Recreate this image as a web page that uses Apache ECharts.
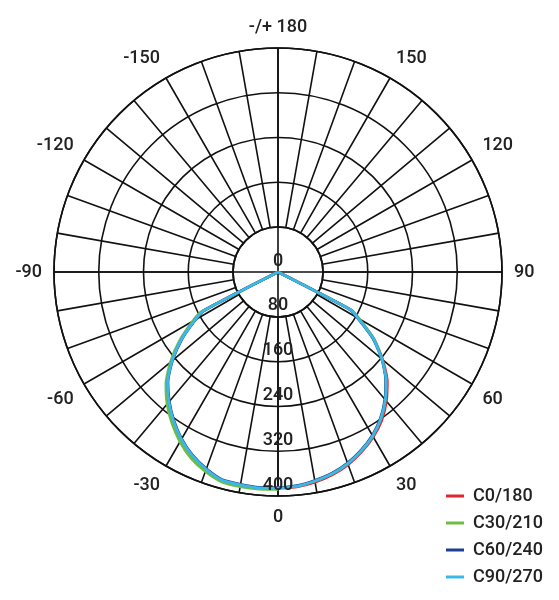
<!DOCTYPE html>
<html>
<head>
<meta charset="utf-8">
<script src="https://cdn.jsdelivr.net/npm/echarts@6/dist/echarts.min.js"></script>
<style>
  html, body { margin: 0; padding: 0; background: #ffffff; }
  #chart { width: 559px; height: 600px; }
</style>
</head>
<body>
<div id="chart"></div>
<script>
// gamma angles (deg) measured from nadir
const angles = [0, 5, 10, 15, 20, 25, 30, 35, 40, 45, 50, 55, 60, 62.5, 65, 70, 75, 80, 85, 90]

// intensity (cd) — right half = C0..C90, left half = C180..C270
const c0   = [386, 385, 381, 375, 366, 354, 340, 323, 301, 276, 244, 209, 166, 146, 0, 0, 0, 0, 0, 0]
const c180 = [386, 387, 387, 386, 376, 363, 346, 326, 304, 280, 248, 212, 172, 150, 0, 0, 0, 0, 0, 0]
const c30  = [386, 384, 379, 373, 364, 352, 338, 320, 298, 273, 243, 210, 168, 148, 0, 0, 0, 0, 0, 0]
const c210 = [388, 389, 389, 388, 379, 367, 350, 330, 308, 283, 251, 215, 176, 154, 0, 0, 0, 0, 0, 0]
const c60  = [385, 383, 378, 372, 363, 351, 337, 319, 297, 272, 242, 207, 164, 144, 0, 0, 0, 0, 0, 0]
const c240 = [385, 386, 385, 384, 374, 361, 344, 324, 302, 278, 246, 210, 170, 148, 0, 0, 0, 0, 0, 0]
const c90  = [386, 384, 379, 373, 364, 352, 338, 320, 298, 273, 242, 208, 165, 145, 0, 0, 0, 0, 0, 0]
const c270 = [386, 387, 386, 385, 375, 362, 345, 325, 303, 279, 247, 211, 171, 149, 0, 0, 0, 0, 0, 0]

const seriesNames = ['C0/180', 'C30/210', 'C60/240', 'C90/270']
const seriesColors = ['#e3262d', '#6dbd45', '#1b3f8f', '#3cb8e6']
const pairs = [[c0, c180], [c30, c210], [c60, c240], [c90, c270]]

const angleLabelStep = 30
const radiusTicks = 80

const labelFont = {
  fontFamily: 'Roboto',
  fontWeight: 500,
  fontSize: 18,
  color: '#222'
}

// left half goes through negative angles (drawn as 360 - a), right half positive
const buildCurve = (right, left) => {
  const pts = []
  for (let i = angles.length - 1; i >= 0; i--) {
    pts.push([left[i], 360 - angles[i]])
  }
  for (let i = 0; i < angles.length; i++) {
    pts.push([right[i], angles[i]])
  }
  return pts
}

const chart = echarts.init(document.getElementById('chart'))

const option = {
  animation: false,
  backgroundColor: '#ffffff',
  polar: [
    { center: [278, 272], radius: [45, 224] },
    { center: [278, 272], radius: [0, 224] }
  ],
  angleAxis: [
    {
      polarIndex: 0,
      type: 'value',
      min: 0,
      max: 360,
      interval: 10,
      startAngle: 270,
      clockwise: false,
      axisLine: { show: true, lineStyle: { color: '#111', width: 1.6 } },
      axisTick: { show: false },
      splitLine: { show: true, lineStyle: { color: '#111', width: 1.6 } },
      axisLabel: {
        ...labelFont,
        margin: 12,
        formatter: v => {
          if (v % angleLabelStep !== 0 || v === 360) return ''
          if (v === 180) return '-/+ 180'
          return v > 180 ? String(v - 360) : String(v)
        }
      }
    },
    {
      polarIndex: 1,
      type: 'value',
      min: 0,
      max: 360,
      interval: 90,
      startAngle: 270,
      clockwise: false,
      axisLine: { show: false },
      axisTick: { show: false },
      axisLabel: { show: false },
      splitLine: { show: true, lineStyle: { color: '#111', width: 1.6 } }
    }
  ],
  radiusAxis: [
    {
      polarIndex: 0,
      type: 'value',
      min: 80,
      max: 400,
      interval: radiusTicks,
      axisLine: { show: false },
      axisTick: { show: false },
      axisLabel: { show: false },
      splitLine: { show: true, lineStyle: { color: '#111', width: 1.6 } }
    },
    {
      polarIndex: 1,
      type: 'value',
      min: 0,
      max: 400,
      interval: radiusTicks,
      z: 10,
      axisLine: { show: false },
      axisTick: { show: false },
      splitLine: { show: false },
      axisLabel: {
        ...labelFont,
        margin: 0,
        align: 'center',
        verticalAlign: 'bottom',
        padding: [0, 0, 2, 0]
      }
    }
  ],
  legend: {
    orient: 'vertical',
    left: 441,
    top: 482,
    icon: 'rect',
    itemWidth: 18,
    itemHeight: 3,
    itemGap: 9,
    data: seriesNames,
    textStyle: {
      fontFamily: 'Roboto',
      fontWeight: 500,
      fontSize: 18,
      lineHeight: 18,
      color: '#222',
      padding: [0, 0, 0, 4]
    }
  },
  series: pairs.map((p, i) => ({
    name: seriesNames[i],
    type: 'line',
    coordinateSystem: 'polar',
    polarIndex: 1,
    symbol: 'none',
    smooth: 0.2,
    color: seriesColors[i],
    lineStyle: { width: 2.8, color: seriesColors[i] },
    data: buildCurve(p[0], p[1])
  }))
}

chart.setOption(option)
</script>
</body>
</html>
